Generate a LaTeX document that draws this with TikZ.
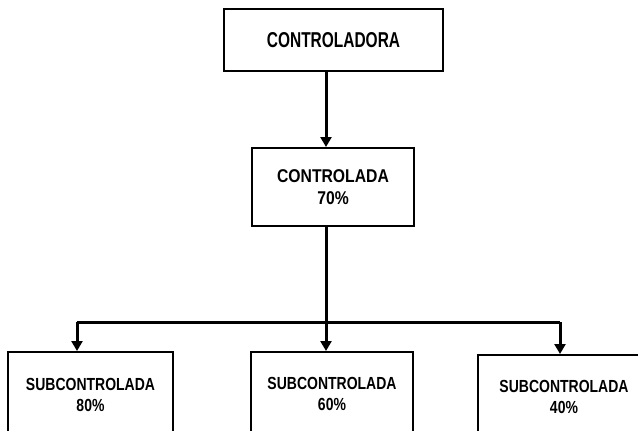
\documentclass[tikz,border=0pt]{standalone}
\usepackage{fontspec}
\newfontfamily\condfont[FakeStretch=0.8]{Liberation Sans}
\newfontfamily\topfont[FakeStretch=0.72]{Liberation Sans}
\newfontfamily\midfont[FakeStretch=0.85]{Liberation Sans}
\usetikzlibrary{arrows.meta}

\begin{document}
\begin{tikzpicture}[
  x=1pt,
  y=-1pt,
  box/.style={draw, line width=2pt, align=center, inner sep=0pt},
  top/.style={box, font=\topfont\bfseries\fontsize{21.5}{24}\selectfont},
  mid/.style={box, font=\midfont\bfseries\fontsize{18.5}{22}\selectfont},
  sub/.style={box, font=\condfont\bfseries\fontsize{17.5}{21}\selectfont},
  arr/.style={-{Triangle[width=11pt,length=10pt]}, line width=3pt},
  link/.style={line width=3pt}
]

\useasboundingbox (0,0) rectangle (638,431);
\clip (0,0) rectangle (638,431);

\node[top, minimum width=219pt, minimum height=62pt] (ctrl) at (333.5,40) {CONTROLADORA};
\node[mid, minimum width=162pt, minimum height=78pt] (ctrlda) at (333,187) {CONTROLADA\\70\%};

\node[sub, minimum width=165pt, minimum height=86pt] (subA) at (90.5,395) {SUBCONTROLADA\\80\%};
\node[sub, minimum width=162pt, minimum height=84pt] (subB) at (332,394) {SUBCONTROLADA\\60\%};
\node[sub, minimum width=172pt, minimum height=84pt] (subC) at (564,397) {SUBCONTROLADA\\40\%};

% puntos de la barra horizontal
\coordinate (trunk) at (326,322);
\coordinate (jA) at (77,322);
\coordinate (jC) at (560,322);

\draw[arr] (ctrl.south -| trunk) -- (ctrlda.north -| trunk);
\draw[link] (ctrlda.south -| trunk) -- (trunk);
\draw[link] (jA) -- (jC);

\draw[arr] (jA) -- (subA.north -| jA);
\draw[arr] (trunk) -- (subB.north -| trunk);
\draw[arr] (jC) -- (subC.north -| jC);

\end{tikzpicture}
\end{document}
